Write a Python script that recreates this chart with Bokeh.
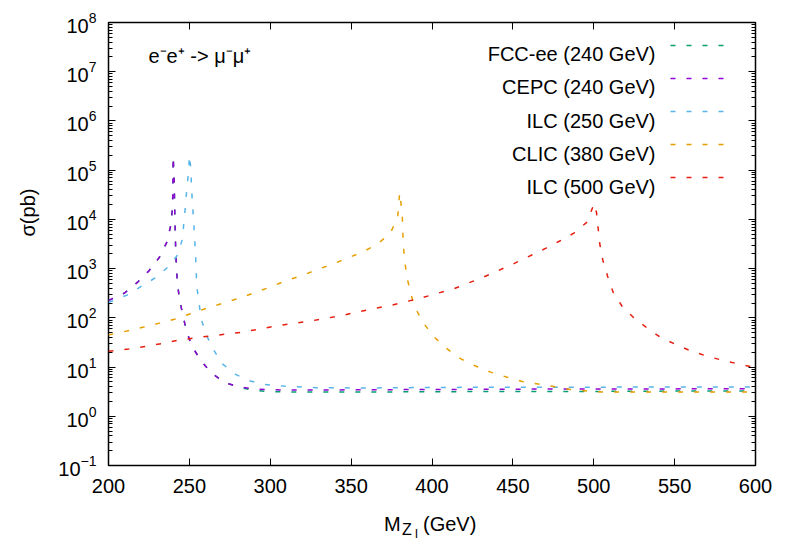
import math
from bokeh.plotting import figure
from bokeh.layouts import column
from bokeh.models import (Range1d, LinearAxis, LogAxis, FixedTicker, Label, Legend,
                          LegendItem, CustomJSTickFormatter, Title)
from bokeh.embed import file_html
from bokeh.resources import INLINE

FONT = "Liberation Sans"

# ---------------- data ----------------
series_names = ["FCC-ee (240 GeV)", "CEPC (240 GeV)", "ILC (250 GeV)", "CLIC (380 GeV)", "ILC (500 GeV)"]
series_colors = ["#009e73", "#9400d3", "#56b4e9", "#e69f00", "#e51e10"]

fcc_x = [200, 210, 218, 225, 231.5, 236, 238.5, 239.4, 239.8, 240, 240.6, 241, 241.6, 242.5, 243.8,
         246, 248.2, 251.7, 257.5, 264, 272, 281.6, 291, 300, 320, 350, 400, 450, 500, 550, 600]
fcc_y = [225, 320, 530, 900, 1700, 3400, 7500, 15000, 35000, 190000, 60000, 12000, 2000, 550, 250,
         112, 54, 26, 13, 7.4, 4.8, 3.8, 3.35, 3.15, 3.1, 3.1, 3.15, 3.2, 3.2, 3.25, 3.25]

cepc_x = [200, 210, 218, 225, 231.5, 236, 238.5, 239.4, 239.8, 240, 240.6, 241, 241.6, 242.5, 243.8,
          246, 248.2, 251.7, 257.5, 264, 272, 281.6, 291, 300, 320, 350, 400, 450, 500, 550, 600]
cepc_y = [225, 320, 530, 900, 1700, 3400, 7500, 15000, 35000, 190000, 60000, 12000, 2000, 550, 250,
          112, 54, 26, 13, 7.4, 4.8, 3.9, 3.55, 3.45, 3.4, 3.45, 3.5, 3.55, 3.6, 3.6, 3.65]

ilc250_x = [200, 211.5, 220.2, 229, 236.7, 242.8, 245.8, 246.6, 247.6, 248.4, 249.6, 250, 250.9,
            251.3, 251.9, 252.6, 253.2, 253.8, 254.6, 257.3, 260.6, 265.1, 270.3, 278.5, 287.8,
            297, 308.4, 329, 360, 400, 450, 500, 550, 600]
ilc250_y = [205, 290, 435, 650, 1070, 1900, 4100, 8900, 19000, 42000, 100000, 200000, 107000,
            46000, 21000, 9500, 4400, 2000, 430, 95, 44, 22, 11.7, 7.1, 5.2,
            4.4, 4.1, 3.8, 3.76, 3.85, 3.9, 3.9, 3.95, 3.95]

clic_x = [200, 211.5, 221.8, 231.5, 241.4, 251.3, 261, 271.3, 280.6, 291, 300.2, 310, 319.8, 329,
          338.3, 347.6, 357.8, 366, 374.3, 378.8, 380, 381.6, 382.2, 383.2, 384.7, 387.1, 389.8,
          395, 401.2, 409.4, 417.6, 426.9, 436.2, 446.5, 455.8, 470.2, 485.6, 496, 506, 550, 600]
clic_y = [45, 54, 65, 78, 95, 123, 158, 200, 250, 330, 425, 575, 725, 955,
          1230, 1620, 2240, 3100, 5250, 11200, 35000, 13000, 3200, 1350, 630, 290, 155,
          76, 41, 23.4, 14.8, 10.5, 7.9, 6.2, 5.1, 4.3, 3.5, 3.25, 3.1, 3.1, 3.1]

ilc500_x = [200, 212.6, 222.9, 233.2, 243.1, 252.7, 263, 282.6, 303.2, 323.8, 343.4, 364, 374.3,
            393.9, 413.5, 432, 450.6, 470.2, 478.4, 487.7, 496, 499.7, 500, 501.7, 503.7, 505.6,
            508.7, 512, 517.6, 524.8, 533, 541.3, 550.5, 559.8, 570.1, 579.4, 589.7, 600]
ilc500_y = [21, 23.4, 26.3, 30, 35, 39, 42.7, 51, 68, 85, 110, 155, 178,
            257, 390, 675, 1260, 2570, 3550, 5250, 8900, 19000, 21000, 14000, 3200, 1480,
            675, 330, 170, 100, 62, 40, 29, 21.4, 16.6, 13.8, 11.5, 9.7]

x_ticks = [200, 250, 300, 350, 400, 450, 500, 550, 600]
y_ticks = [1e-1, 1e0, 1e1, 1e2, 1e3, 1e4, 1e5, 1e6, 1e7, 1e8]
y_minor = [m * t for t in y_ticks[:-1] for m in range(2, 10)]

all_x = [fcc_x, cepc_x, ilc250_x, clic_x, ilc500_x]
all_y = [fcc_y, cepc_y, ilc250_y, clic_y, ilc500_y]

# ---------------- main figure ----------------
p = figure(width=789, height=505, y_axis_type="log",
           x_range=Range1d(200, 600), y_range=Range1d(0.1, 1e8),
           output_backend="svg", toolbar_location=None,
           min_border_left=108, min_border_right=34, min_border_top=22, min_border_bottom=40)
p.grid.visible = False
p.outline_line_color = "black"
p.outline_line_width = 1.5
p.background_fill_color = "white"
p.border_fill_color = "white"

xticker = FixedTicker(ticks=x_ticks, minor_ticks=[])
yticker = FixedTicker(ticks=y_ticks, minor_ticks=y_minor)


def style_axis(ax):
    ax.axis_line_color = None
    ax.major_tick_in = 7
    ax.major_tick_out = 0
    ax.minor_tick_in = 4
    ax.minor_tick_out = 0
    ax.major_tick_line_color = "black"
    ax.minor_tick_line_color = "black"
    ax.major_label_text_font = FONT
    ax.major_label_text_font_size = "20px"
    ax.major_label_text_color = "black"


xa = p.xaxis[0]
xa.ticker = xticker
style_axis(xa)
xa.major_label_standoff = 13

ya = p.yaxis[0]
ya.ticker = yticker
style_axis(ya)
ya.major_label_standoff = 12

top = LinearAxis(ticker=xticker, formatter=CustomJSTickFormatter(code="return ''"))
style_axis(top)
top.major_label_standoff = 0
p.add_layout(top, "above")
right = LogAxis(ticker=yticker, formatter=CustomJSTickFormatter(code="return ''"))
style_axis(right)
right.major_label_standoff = 0
p.add_layout(right, "right")

renderers = []
for xs, ys, c in zip(all_x, all_y, series_colors):
    r = p.line(xs, ys, line_color=c, line_width=1.5, line_dash="5 11")
    renderers.append(r)

# legend samples (labels drawn left of them as in the reference)
legend = Legend(items=[LegendItem(label="", renderers=[r]) for r in renderers],
                location=(562, 278), glyph_width=57, glyph_height=20, label_width=0,
                label_height=20, label_standoff=0, spacing=13, padding=0, margin=0,
                border_line_color=None, background_fill_alpha=0)
p.add_layout(legend)

row_base = [411.7, 378.4, 345.0, 311.7, 278.4]
for name, yb in zip(series_names, row_base):
    p.add_layout(Label(x=547, y=yb, x_units="screen", y_units="screen", text=name,
                       text_align="right", text_baseline="alphabetic",
                       text_font=FONT, text_font_size="20px", text_color="black"))

# process annotation
p.add_layout(Label(x=40, y=410, x_units="screen", y_units="screen",
                   text="e\u207be\u207a -> \u03bc\u207b\u03bc\u207a",
                   text_align="left", text_baseline="alphabetic",
                   text_font=FONT, text_font_size="20px", text_color="black"))

# y axis title as a side-panel title
p.add_layout(Title(text="\u03c3(pb)", align="left", offset=229, vertical_align="top",
                   standoff=29, text_font=FONT, text_font_size="20px",
                   text_font_style="normal", text_color="black"), "left")

# ---------------- strip below holding the x axis title  M_{Z_l} (GeV) ----------------
p2 = figure(width=789, height=45, x_range=Range1d(0, 1), y_range=Range1d(0, 1),
            output_backend="svg", toolbar_location=None,
            x_axis_location=None, y_axis_location=None, min_border=0)
p2.grid.visible = False
p2.outline_line_color = None
p2.background_fill_color = "white"
p2.border_fill_color = "white"

# x positions are relative to the strip's frame, which the column aligns with the main frame
for txt, fx, fy, fs in [("M", 275.5, 26.5, "20px"), ("Z", 293.5, 21.4, "16px"),
                        ("l", 306.5, 17.3, "13px"), ("(GeV)", 314.5, 26.5, "20px")]:
    p2.add_layout(Label(x=fx, y=fy, x_units="screen", y_units="screen", text=txt,
                        text_align="left", text_baseline="alphabetic",
                        text_font=FONT, text_font_size=fs, text_color="black"))

layout = column(p, p2, spacing=0)
open("out.html", "w").write(file_html(layout, INLINE))
